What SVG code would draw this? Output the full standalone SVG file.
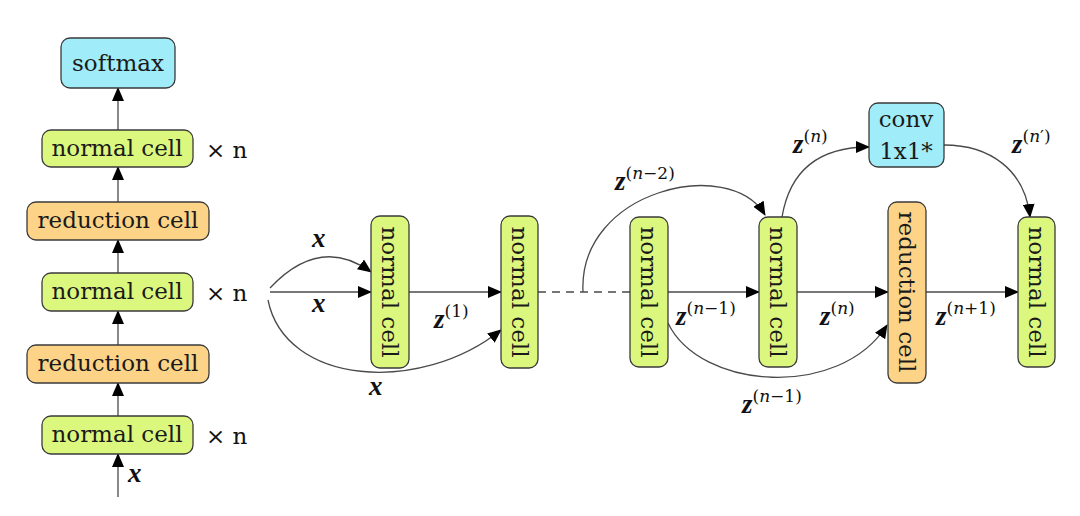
<svg xmlns="http://www.w3.org/2000/svg" width="1080" height="516" viewBox="0 0 1080 516">
<defs>
<marker id="ah" markerUnits="userSpaceOnUse" markerWidth="14" markerHeight="12" refX="13" refY="6" orient="auto">
<path d="M0,0 L14,6 L0,12 z" fill="#000"/>
</marker>
<style>
.g{fill:#dcf77e;stroke:#3a3a3a;stroke-width:1.3}
.o{fill:#fdd487;stroke:#3a3a3a;stroke-width:1.3}
.c{fill:#a0ecf8;stroke:#3a3a3a;stroke-width:1.3}
.t{font-family:"DejaVu Serif","Liberation Serif",serif;font-size:23px;fill:#1a1a1a}
.e{stroke:#4a4a4a;stroke-width:1.3;fill:none;marker-end:url(#ah)}
.d{stroke:#4a4a4a;stroke-width:1.3;fill:none;stroke-dasharray:8,6}
.m{font-family:"Liberation Serif","DejaVu Serif",serif;font-size:27px;font-weight:bold;font-style:italic;fill:#111}
.s{font-family:"DejaVu Serif","Liberation Serif",serif;font-size:17px;font-style:italic;font-weight:normal;fill:#111}
.sn{font-family:"DejaVu Serif","Liberation Serif",serif;font-size:17px;font-style:normal;font-weight:normal;fill:#111}
.xn{font-family:"DejaVu Serif","Liberation Serif",serif;font-size:23px;fill:#111}
</style>
</defs>

<g id="connectors">
<line class="e" x1="118" y1="497" x2="118" y2="454"/>
<line class="e" x1="118" y1="416" x2="118" y2="383"/>
<line class="e" x1="118" y1="345" x2="118" y2="311"/>
<line class="e" x1="118" y1="273" x2="118" y2="240"/>
<line class="e" x1="118" y1="202" x2="118" y2="167"/>
<line class="e" x1="118" y1="130" x2="118" y2="88"/>
<line class="e" x1="270" y1="292" x2="371" y2="292"/>
<path class="e" d="M270,288 Q320,235 371,272"/>
<path class="e" d="M268,300 C285,385 420,395 501,330"/>
<line class="e" x1="409" y1="292" x2="501" y2="292"/>
<line class="d" x1="538" y1="292" x2="630" y2="292"/>
<path class="e" d="M583,292 C578,190 730,155 765,215"/>
<line class="e" x1="668" y1="292" x2="759" y2="292"/>
<path class="e" d="M668,323 C700,390 840,400 887,325"/>
<path class="e" d="M782,217 C790,170 820,147 869,147"/>
<line class="e" x1="797" y1="292" x2="888" y2="292"/>
<path class="e" d="M944,145 C990,145 1025,170 1030,217"/>
<line class="e" x1="926" y1="292" x2="1018" y2="292"/>
</g>

<g id="softmax"><rect class="c" x="61" y="38" width="114" height="50" rx="9"/><text class="t" x="118" y="71" text-anchor="middle">softmax</text></g>
<g id="normal-top"><rect class="g" x="42" y="130" width="151" height="37" rx="9"/><text class="t" x="117" y="156" text-anchor="middle">normal cell</text></g>
<g id="reduction-top"><rect class="o" x="27" y="202" width="182" height="38" rx="9"/><text class="t" x="118" y="228" text-anchor="middle">reduction cell</text></g>
<g id="normal-mid"><rect class="g" x="42" y="273" width="151" height="38" rx="9"/><text class="t" x="117" y="299" text-anchor="middle">normal cell</text></g>
<g id="reduction-bot"><rect class="o" x="27" y="345" width="182" height="38" rx="9"/><text class="t" x="118" y="371" text-anchor="middle">reduction cell</text></g>
<g id="normal-bot"><rect class="g" x="42" y="416" width="151" height="38" rx="9"/><text class="t" x="117" y="442" text-anchor="middle">normal cell</text></g>
<g id="times-labels">
<text class="xn" x="206" y="158">× n</text>
<text class="xn" x="206" y="301">× n</text>
<text class="xn" x="206" y="444">× n</text>
<text class="m" x="128" y="482">x</text>
</g>

<g id="cell1"><rect class="g" x="371" y="216" width="38" height="152" rx="9"/><text class="t" transform="translate(382,292) rotate(90)" text-anchor="middle">normal cell</text></g>
<g id="cell2"><rect class="g" x="501" y="216" width="37" height="152" rx="9"/><text class="t" transform="translate(512,292) rotate(90)" text-anchor="middle">normal cell</text></g>
<g id="cell3"><rect class="g" x="630" y="217" width="38" height="150" rx="9"/><text class="t" transform="translate(641,292) rotate(90)" text-anchor="middle">normal cell</text></g>
<g id="cell4"><rect class="g" x="759" y="217" width="38" height="150" rx="9"/><text class="t" transform="translate(770,292) rotate(90)" text-anchor="middle">normal cell</text></g>
<g id="reduction"><rect class="o" x="888" y="202" width="38" height="181" rx="9"/><text class="t" transform="translate(899,292) rotate(90)" text-anchor="middle">reduction cell</text></g>
<g id="cell5"><rect class="g" x="1018" y="217" width="37" height="150" rx="9"/><text class="t" transform="translate(1029,292) rotate(90)" text-anchor="middle">normal cell</text></g>
<g id="conv"><rect class="c" x="869" y="103" width="75" height="64" rx="9"/><text class="t" x="906" y="127" text-anchor="middle">conv</text><text class="t" x="906" y="159" text-anchor="middle">1x1*</text></g>

<g id="labels">
<text class="m" x="312" y="247">x</text>
<text class="m" x="312" y="312">x</text>
<text class="m" x="369" y="395">x</text>
<text class="m" x="434" y="328">z<tspan class="sn" dy="-11">(1)</tspan></text>
<text class="m" x="615" y="190">z<tspan class="sn" dy="-11">(</tspan><tspan class="s">n</tspan><tspan class="sn">−2)</tspan></text>
<text class="m" x="676" y="325">z<tspan class="sn" dy="-11">(</tspan><tspan class="s">n</tspan><tspan class="sn">−1)</tspan></text>
<text class="m" x="742" y="413">z<tspan class="sn" dy="-11">(</tspan><tspan class="s">n</tspan><tspan class="sn">−1)</tspan></text>
<text class="m" x="793" y="153">z<tspan class="sn" dy="-11">(</tspan><tspan class="s">n</tspan><tspan class="sn">)</tspan></text>
<text class="m" x="820" y="325">z<tspan class="sn" dy="-11">(</tspan><tspan class="s">n</tspan><tspan class="sn">)</tspan></text>
<text class="m" x="936" y="325">z<tspan class="sn" dy="-11">(</tspan><tspan class="s">n</tspan><tspan class="sn">+1)</tspan></text>
<text class="m" x="1012" y="153">z<tspan class="sn" dy="-11">(</tspan><tspan class="s">n</tspan><tspan class="sn">′)</tspan></text>
</g>
</svg>
